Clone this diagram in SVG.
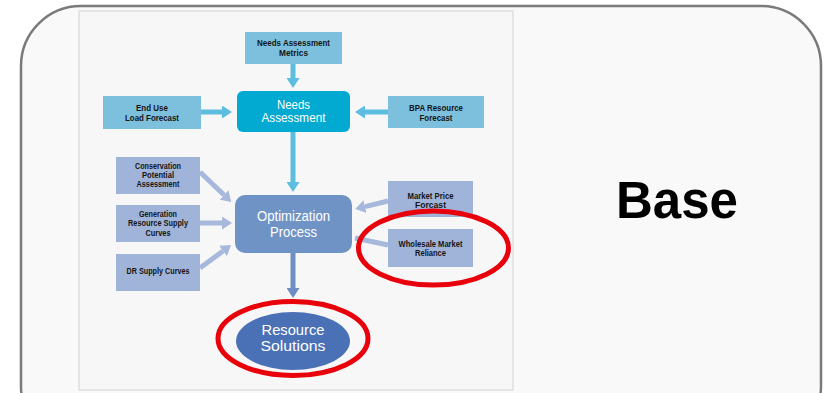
<svg xmlns="http://www.w3.org/2000/svg" width="824" height="393" viewBox="0 0 824 393">
<style>
.lb{fill:#7cc0dd}
.pb{fill:#a0b3d8}
.t{font-family:"Liberation Sans",Arial,sans-serif;font-weight:bold;font-size:8.5px;fill:#151515;text-anchor:middle}
.w{font-family:"Liberation Sans",Arial,sans-serif;font-size:12.5px;fill:#fff;text-anchor:middle}
.w2{font-family:"Liberation Sans",Arial,sans-serif;font-size:14.5px;fill:#fff;text-anchor:middle}
.c1{stroke:#5cbde0;stroke-width:5;fill:none}
.c2{stroke:#a6b8dc;stroke-width:5;fill:none}
.c3{stroke:#6d8fc6;stroke-width:5;fill:none}
.red{fill:none;stroke:#e8000b;stroke-width:5}
</style>
<defs>
<marker id="h1" markerUnits="userSpaceOnUse" markerWidth="10" markerHeight="13" viewBox="0 0 10 13" refX="0" refY="6.5" orient="auto"><path d="M0,0L10,6.5L0,13z" fill="#5cbde0"/></marker>
<marker id="h2" markerUnits="userSpaceOnUse" markerWidth="10" markerHeight="13" viewBox="0 0 10 13" refX="0" refY="6.5" orient="auto"><path d="M0,0L10,6.5L0,13z" fill="#a6b8dc"/></marker>
<marker id="h3" markerUnits="userSpaceOnUse" markerWidth="10" markerHeight="13" viewBox="0 0 10 13" refX="0" refY="6.5" orient="auto"><path d="M0,0L10,6.5L0,13z" fill="#6d8fc6"/></marker>
</defs>
<rect width="824" height="393" fill="#fff"/>
<rect x="21" y="6" width="800" height="440" rx="60" fill="#f9f9f9" stroke="#7a7a7a" stroke-width="2.5"/>
<rect x="79" y="11" width="434" height="379" fill="#f7f7f7" stroke="#d2d2d2" stroke-width="1"/>

<g id="connectors">
<line class="c1" x1="293" y1="64" x2="293" y2="78" marker-end="url(#h1)"/>
<line class="c1" x1="201" y1="112" x2="222" y2="112" marker-end="url(#h1)"/>
<line class="c1" x1="388" y1="112" x2="365" y2="112" marker-end="url(#h1)"/>
<line class="c1" x1="293" y1="132" x2="293" y2="182" marker-end="url(#h1)"/>
<line class="c2" x1="200" y1="172" x2="224" y2="195" marker-end="url(#h2)"/>
<line class="c2" x1="200" y1="223" x2="222" y2="223" marker-end="url(#h2)"/>
<line class="c2" x1="200" y1="268" x2="223" y2="251" marker-end="url(#h2)"/>
<line class="c2" x1="388" y1="201" x2="365" y2="206.6" marker-end="url(#h2)"/>
<line class="c2" x1="388" y1="245" x2="355" y2="238"/>
<line class="c3" x1="293" y1="253" x2="293" y2="288" marker-end="url(#h3)"/>
</g>

<g id="metrics"><rect class="lb" x="245" y="32" width="97" height="32"/><text class="t" x="293.5" y="46" textLength="73" lengthAdjust="spacingAndGlyphs">Needs Assessment</text><text class="t" x="293.5" y="56" textLength="29" lengthAdjust="spacingAndGlyphs">Metrics</text></g>
<g id="needs"><rect x="237" y="91" width="113" height="41" rx="6" fill="#02a9d0"/><text class="w" x="293.5" y="109" textLength="33" lengthAdjust="spacingAndGlyphs">Needs</text><text class="w" x="293.5" y="122.2" textLength="64" lengthAdjust="spacingAndGlyphs">Assessment</text></g>
<g id="enduse"><rect class="lb" x="103" y="96" width="98" height="33"/><text class="t" x="152" y="111" textLength="32" lengthAdjust="spacingAndGlyphs">End Use</text><text class="t" x="152" y="121" textLength="54" lengthAdjust="spacingAndGlyphs">Load Forecast</text></g>
<g id="bpa"><rect class="lb" x="388" y="96" width="96" height="32"/><text class="t" x="436" y="111" textLength="54" lengthAdjust="spacingAndGlyphs">BPA Resource</text><text class="t" x="436" y="121" textLength="33" lengthAdjust="spacingAndGlyphs">Forecast</text></g>

<g id="conservation"><rect class="pb" x="116" y="157" width="84" height="37"/><text class="t" x="158" y="168.5" textLength="46" lengthAdjust="spacingAndGlyphs">Conservation</text><text class="t" x="158" y="178" textLength="32" lengthAdjust="spacingAndGlyphs">Potential</text><text class="t" x="158" y="187" textLength="43" lengthAdjust="spacingAndGlyphs">Assessment</text></g>
<g id="generation"><rect class="pb" x="116" y="205" width="84" height="37"/><text class="t" x="158" y="216.5" textLength="38" lengthAdjust="spacingAndGlyphs">Generation</text><text class="t" x="158" y="226" textLength="60" lengthAdjust="spacingAndGlyphs">Resource Supply</text><text class="t" x="158" y="235.5" textLength="25" lengthAdjust="spacingAndGlyphs">Curves</text></g>
<g id="dr"><rect class="pb" x="116" y="254" width="84" height="37"/><text class="t" x="158" y="274" textLength="63" lengthAdjust="spacingAndGlyphs">DR Supply Curves</text></g>
<g id="optimization"><rect x="235" y="195" width="117" height="58" rx="10" fill="#7093c6"/><text class="w2" x="293.5" y="221.3" textLength="73" lengthAdjust="spacingAndGlyphs">Optimization</text><text class="w2" x="293.5" y="236.5" textLength="47" lengthAdjust="spacingAndGlyphs">Process</text></g>
<g id="market"><rect class="pb" x="388" y="181" width="85" height="36"/><text class="t" x="430.5" y="199.3" textLength="46" lengthAdjust="spacingAndGlyphs">Market Price</text><text class="t" x="430.5" y="208.3" textLength="31" lengthAdjust="spacingAndGlyphs">Forcast</text></g>
<g id="wholesale"><rect class="pb" x="388" y="229" width="85" height="38"/><text class="t" x="430.5" y="246.7" textLength="64" lengthAdjust="spacingAndGlyphs">Wholesale Market</text><text class="t" x="430.5" y="256" textLength="31" lengthAdjust="spacingAndGlyphs">Reliance</text></g>
<g id="resource"><ellipse cx="293" cy="341" rx="57" ry="29" fill="#4a70b6"/><text class="w2" x="293" y="335" textLength="63" lengthAdjust="spacingAndGlyphs">Resource</text><text class="w2" x="293" y="350.7" textLength="65" lengthAdjust="spacingAndGlyphs">Solutions</text></g>

<g id="highlights">
<ellipse class="red" cx="433.5" cy="248" rx="75" ry="37"/>
<ellipse class="red" cx="293" cy="338.5" rx="75" ry="37"/>
</g>
<text x="677" y="218" font-family="'Liberation Sans',Arial,sans-serif" font-weight="bold" font-size="51" text-anchor="middle" fill="#000">Base</text>
</svg>
